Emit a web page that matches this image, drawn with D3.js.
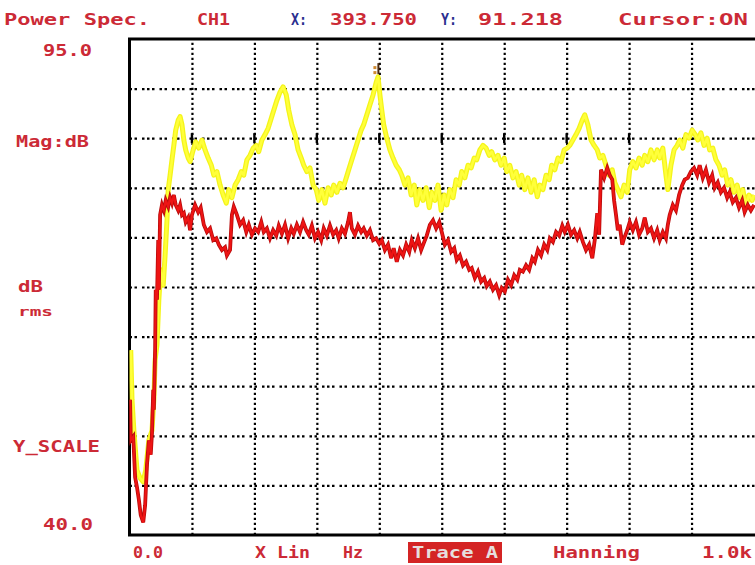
<!DOCTYPE html>
<html><head><meta charset="utf-8">
<script src="https://cdn.jsdelivr.net/npm/d3@7"></script>
<style>html,body{margin:0;padding:0;background:#fff;overflow:hidden}svg{display:block}</style>
</head><body>
<script>
// ---- data (frequency Hz, magnitude dB) ----
const xDomain = [0, 1000];
const yDomain = [40, 95];
const xGrid = [100, 200, 300, 400, 500, 600, 700, 800, 900];
const yGrid = [45.5, 51, 56.5, 62, 67.5, 73, 78.5, 84, 89.5];
const cursorPoint = [393.75, 91.218];
const headerLabels = ["Power Spec.", "CH1", "X:", "393.750", "Y:", "91.218", "Cursor:ON"];
const sideLabels = ["95.0", "Mag:dB", "dB", "rms", "Y_SCALE", "40.0"];
const footerLabels = ["0.0", "X Lin", "Hz", "Trace A", "Hanning", "1.0k"];

const yellowTrace = [
[2,60.5],[4,55.0],[7,51.6],[12,47.2],[17,46.3],[22,45.9],[26,47.2],[31,50.5],[36,51.6],[39,55.0],
[41,59.4],[44,61.1],[47,66.1],[50,69.4],[54,67.7],[57,71.0],[60,74.9],[62,78.3],[65,79.9],[68,81.6],
[71,83.2],[74,84.9],[78,86.0],[81,86.4],[84,85.5],[87,83.8],[90,82.7],[94,81.8],[97,81.4],[102,82.7],
[106,83.6],[111,82.9],[116,83.8],[121,82.7],[126,81.8],[131,81.0],[135,79.9],[140,80.3],[145,78.8],[150,77.7],
[155,76.8],[159,78.3],[164,77.4],[169,78.8],[174,79.4],[179,80.3],[183,79.9],[188,81.6],[193,82.1],[198,82.9],
[203,83.2],[207,82.5],[212,83.8],[217,84.4],[222,85.1],[227,86.2],[231,87.1],[236,88.2],[241,89.1],[246,89.7],
[251,88.8],[255,87.1],[260,85.5],[265,84.4],[270,82.7],[275,81.8],[279,81.0],[284,80.3],[289,80.7],[294,78.8],
[299,78.3],[303,77.1],[308,78.3],[313,76.8],[318,78.5],[323,77.7],[327,78.8],[332,78.0],[337,79.0],[342,78.5],
[347,79.6],[351,80.5],[356,81.6],[361,82.7],[366,83.8],[371,84.9],[375,85.5],[380,86.6],[385,87.7],[390,88.8],
[395,90.2],[398,90.8],[401,88.8],[404,87.1],[407,85.5],[412,84.0],[417,82.7],[422,81.8],[427,81.0],[432,80.5],
[436,79.9],[441,78.8],[446,79.6],[451,77.7],[456,78.8],[460,76.6],[465,78.3],[470,77.1],[475,78.5],[480,76.3],
[484,78.0],[489,77.1],[494,78.8],[499,76.0],[504,77.7],[508,76.6],[513,78.3],[518,77.4],[523,79.4],[528,78.8],
[532,80.3],[537,79.6],[542,81.0],[547,80.7],[552,81.8],[556,81.6],[561,82.7],[566,83.2],[571,82.9],[576,82.1],
[580,82.5],[585,81.6],[590,82.1],[595,81.0],[600,81.8],[604,80.3],[609,81.0],[614,79.6],[619,80.3],[624,78.8],
[628,79.9],[633,78.3],[638,79.6],[643,78.0],[648,79.4],[653,77.5],[657,78.8],[662,78.3],[667,79.9],[672,79.4],
[676,81.0],[681,80.5],[686,81.8],[691,81.4],[696,82.7],[701,82.9],[705,83.2],[710,83.8],[715,84.4],[720,85.1],
[725,86.0],[729,86.6],[734,85.5],[739,83.8],[744,83.2],[749,82.7],[753,81.8],[758,82.1],[763,81.0],[768,79.9],
[773,80.5],[777,79.1],[782,78.3],[787,77.5],[792,78.8],[797,78.0],[801,80.5],[806,81.4],[811,80.7],[816,81.8],
[821,81.0],[825,82.1],[830,81.4],[835,82.7],[840,81.6],[845,82.7],[849,81.8],[854,82.9],[859,79.9],[862,78.3],
[867,81.0],[872,82.7],[877,83.2],[881,83.8],[886,82.9],[891,84.4],[896,84.0],[901,84.9],[906,84.4],[910,83.8],
[915,84.6],[920,83.2],[925,84.0],[929,82.7],[934,82.9],[939,81.6],[944,81.0],[949,79.9],[953,80.5],[958,78.8],
[963,79.4],[968,78.0],[973,78.8],[978,77.4],[982,78.3],[987,76.6],[992,77.7],[997,77.1],[1000,77.7]
];

const redTrace = [
[1,55.0],[2,50.5],[6,50.9],[9,46.4],[12,45.3],[15,43.9],[18,42.2],[22,41.4],[25,43.3],[28,47.8],
[31,50.5],[34,48.9],[36,51.3],[38,56.1],[39,53.9],[41,60.5],[42,67.2],[44,66.1],[46,72.7],[47,67.2],
[49,75.5],[52,76.6],[55,76.0],[58,77.1],[62,76.4],[65,77.4],[68,76.8],[71,77.7],[74,76.6],[78,76.0],
[81,76.6],[84,75.5],[87,75.7],[90,74.7],[94,75.2],[97,73.8],[100,75.5],[105,76.6],[110,75.8],[114,76.3],
[119,74.4],[124,73.6],[129,74.0],[134,72.7],[139,72.9],[143,72.2],[148,71.6],[153,71.9],[156,71.0],[161,71.6],
[164,75.5],[167,76.4],[172,75.5],[177,74.4],[182,74.9],[187,73.6],[191,74.4],[196,73.3],[201,74.0],[206,73.6],
[211,74.7],[215,73.6],[220,74.0],[225,72.9],[230,73.8],[235,73.2],[239,74.3],[244,73.4],[249,74.4],[254,72.9],
[259,74.0],[263,73.4],[268,74.4],[273,73.6],[278,74.7],[283,73.8],[287,73.3],[292,74.3],[297,72.9],[302,73.6],
[307,72.7],[311,74.0],[316,73.2],[321,74.3],[326,73.3],[331,73.8],[335,72.9],[340,74.0],[345,73.4],[350,74.7],
[353,75.8],[356,74.0],[361,73.3],[366,74.3],[371,73.6],[375,74.0],[380,73.2],[385,73.8],[390,72.7],[395,72.9],
[400,72.3],[404,72.7],[409,71.6],[414,72.2],[419,70.7],[423,71.8],[428,70.3],[433,71.6],[438,71.0],[443,72.2],
[448,71.4],[452,72.7],[457,71.8],[462,72.9],[467,71.6],[472,72.5],[476,73.2],[481,74.4],[486,74.9],[491,74.0],
[496,74.7],[500,73.6],[505,72.2],[510,72.7],[515,71.4],[520,71.8],[524,70.5],[529,71.0],[534,69.9],[539,70.3],
[544,69.4],[548,69.6],[553,68.5],[558,69.2],[563,68.1],[568,68.5],[572,67.6],[577,68.1],[582,67.2],[587,67.7],
[592,66.6],[596,67.4],[601,67.0],[606,68.3],[611,67.7],[616,68.8],[621,68.3],[625,69.4],[630,69.2],[635,69.9],
[640,69.4],[645,70.7],[649,70.3],[654,71.6],[659,71.0],[664,72.2],[669,71.6],[673,72.9],[678,72.5],[683,73.6],
[688,73.2],[693,74.3],[697,73.6],[702,74.4],[707,73.3],[712,73.8],[717,72.9],[721,73.6],[726,72.5],[731,71.6],
[736,72.2],[741,70.7],[745,72.7],[749,75.7],[752,73.3],[755,80.5],[760,79.6],[765,80.7],[769,79.9],[773,79.4],
[776,77.1],[779,75.5],[782,73.8],[785,74.4],[789,72.2],[792,72.9],[797,73.8],[801,74.7],[806,73.8],[811,74.7],
[816,73.3],[821,74.0],[825,75.2],[830,73.6],[835,74.0],[840,72.9],[845,73.8],[849,72.7],[854,73.6],[859,72.9],
[862,74.4],[865,75.5],[870,76.6],[875,76.0],[880,77.7],[885,78.8],[889,79.4],[894,79.6],[899,80.3],[904,80.7],
[909,79.9],[913,81.0],[918,79.6],[923,80.5],[928,79.1],[933,79.9],[937,78.5],[942,79.1],[947,78.0],[952,78.5],
[957,77.4],[961,78.0],[966,76.9],[971,77.4],[976,76.3],[981,77.1],[985,75.8],[990,76.6],[995,76.0],[1000,76.6]
];

// ---- drawing ----
const W = 755, H = 565;
const textRed = "#cc2a36", navy = "#2b2f8f";
const FONT = "'DejaVu Sans Mono', monospace";

const svg = d3.select("body").append("svg").attr("width", W).attr("height", H);
svg.append("rect").attr("width", W).attr("height", H).attr("fill", "#fff");

const x = d3.scaleLinear().domain(xDomain).range([129.5, 754]);
const y = d3.scaleLinear().domain(yDomain).range([535, 39]);

svg.append("clipPath").attr("id", "plotclip").append("rect")
  .attr("x", x(0)).attr("y", y(95)).attr("width", x(1000) - x(0) + 2).attr("height", y(40) - y(95));

// grid via axes
const gx = svg.append("g").attr("transform", `translate(0,${y(40)})`)
  .call(d3.axisBottom(x).tickValues(xGrid).tickSize(-(y(40) - y(95))).tickFormat(""));
gx.select(".domain").remove();
gx.selectAll(".tick line").attr("stroke", "#000").attr("stroke-width", 2.2).attr("stroke-dasharray", "2.2,2.8");

const gy = svg.append("g").attr("transform", `translate(${x(0)},0)`)
  .call(d3.axisLeft(y).tickValues(yGrid).tickSize(-(x(1000) - x(0) + 2)).tickFormat(""));
gy.select(".domain").remove();
gy.selectAll(".tick line").attr("stroke", "#000").attr("stroke-width", 2.2).attr("stroke-dasharray", "2.5,2.5,2.5,5,2.5,2.5,2.5,2.5,2.5,5");

// small solid marks where the vertical grid crosses the 84 dB line
svg.append("g").selectAll("line").data(xGrid.slice(0, 8)).join("line")
  .attr("x1", d => x(d)).attr("x2", d => x(d))
  .attr("y1", y(84) - 5).attr("y2", y(84) + 5)
  .attr("stroke", "#000").attr("stroke-width", 2.4);

// frame (left, top, bottom)
const fr = svg.append("g").attr("stroke", "#000").attr("stroke-width", 3).attr("fill", "none");
fr.append("path").attr("d", `M${x(1000) + 4},${y(95)} H${x(0)} V${y(40)} H${x(1000) + 4}`);

// traces
const line = d3.line().x(d => x(d[0])).y(d => y(d[1]));
const plot = svg.append("g").attr("clip-path", "url(#plotclip)");
plot.append("path").datum(yellowTrace).attr("d", line)
  .attr("fill", "none").attr("stroke", "#f4f41a").attr("stroke-width", 5).attr("stroke-linejoin", "round");
plot.append("path").datum(yellowTrace).attr("d", line)
  .attr("fill", "none").attr("stroke", "#ffff3a").attr("stroke-width", 2.5).attr("stroke-linejoin", "round");
plot.append("path").datum(redTrace).attr("d", line)
  .attr("fill", "none").attr("stroke", "#b80c0c").attr("stroke-width", 3.8).attr("stroke-linejoin", "miter");
plot.append("path").datum(redTrace).attr("d", line)
  .attr("fill", "none").attr("stroke", "#ee1414").attr("stroke-width", 2.2).attr("stroke-linejoin", "miter");

// cursor marker
const cx = x(cursorPoint[0]), cy = y(cursorPoint[1]);
svg.append("line").attr("x1", cx + 3).attr("x2", cx + 3).attr("y1", cy - 10).attr("y2", cy + 1)
  .attr("stroke", "#4a2a10").attr("stroke-width", 2);
svg.append("rect").attr("x", cx - 2).attr("y", cy - 7).attr("width", 3).attr("height", 3).attr("fill", "#d08a30");
svg.append("rect").attr("x", cx - 2).attr("y", cy - 2).attr("width", 3).attr("height", 3).attr("fill", "#d08a30");

function label(txt, px, py, len, color, opts = {}) {
  return svg.append("text").attr("x", px).attr("y", py).text(txt)
    .attr("font-family", FONT).attr("font-size", opts.size || 16).attr("font-weight", "bold")
    .attr("fill", color).attr("textLength", len).attr("lengthAdjust", "spacingAndGlyphs");
}

// header
label(headerLabels[0], 4, 25, 146, textRed);
label(headerLabels[1], 197, 25, 33, textRed);
label(headerLabels[2], 291, 25, 16, navy);
label(headerLabels[3], 330, 25, 87, textRed);
label(headerLabels[4], 441, 25, 16, navy);
label(headerLabels[5], 478, 25, 85, textRed);
label(headerLabels[6], 618, 25, 130, textRed);

// side labels
label(sideLabels[0], 43, 56, 49, textRed);
label(sideLabels[1], 16, 147, 73, textRed);
label(sideLabels[2], 18, 292, 25, textRed);
label(sideLabels[3], 18, 316, 35, textRed, {size: 13});
label(sideLabels[4], 13, 452, 87, textRed);
label(sideLabels[5], 43, 530, 50, textRed);

// footer
label(footerLabels[0], 133, 558, 30, textRed);
label(footerLabels[1], 255, 558, 55, textRed);
label(footerLabels[2], 343, 558, 20, textRed);
svg.append("rect").attr("x", 408).attr("y", 542).attr("width", 94).attr("height", 21).attr("fill", "#d42424");
label(footerLabels[3], 412, 558, 86, "#e6dede");
label(footerLabels[4], 553, 558, 87, textRed);
label(footerLabels[5], 702, 558, 50, textRed);
</script>
</body></html>
